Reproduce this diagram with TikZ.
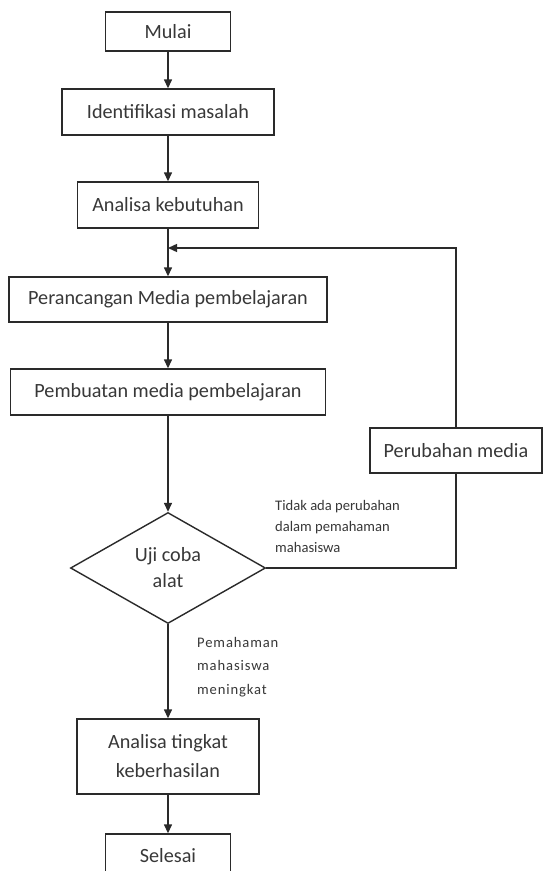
\documentclass[tikz,border=0pt]{standalone}
\usepackage{fontspec}
\setmainfont{Carlito}
\newfontfamily\spacedfont[LetterSpace=6]{Carlito}
\usetikzlibrary{shapes.geometric,arrows.meta,calc}
\definecolor{linec}{HTML}{2A2A2A}
\definecolor{textc}{HTML}{383838}
\tikzset{
  box/.style={draw=linec, line width=1.4pt, rectangle, inner sep=0pt, text=textc,
    font=\fontsize{20.2}{24}\selectfont, align=center},
  dia/.style={draw=linec, line width=1.4pt, diamond, inner sep=0pt, text=textc,
    font=\fontsize{20.2}{26}\selectfont, align=center},
  lbl/.style={inner sep=0pt, text=textc, align=left},
  conn/.style={draw=linec, line width=1.4pt},
  arr/.style={conn, -{Triangle[length=9pt,width=8pt]}}
}
\begin{document}
\begin{tikzpicture}[x=1pt,y=-1pt]
\clip (0,0) rectangle (543,871);
\fill[white] (0,0) rectangle (543,871);

\node[box, minimum width=125, minimum height=39] (mulai) at (168,31.5) {Mulai};
\node[box, minimum width=212, minimum height=46] (ident) at (168,112) {Identifikasi masalah};
\node[box, minimum width=181, minimum height=46] (anal) at (168,205) {Analisa kebutuhan};
\node[box, minimum width=318, minimum height=45] (peran) at (168,299.5) {Perancangan Media pembelajaran};
\node[box, minimum width=315, minimum height=46] (pembu) at (168,392) {Pembuatan media pembelajaran};
\node[box, minimum width=172, minimum height=45] (ubah) at (456,450.5) {Perubahan media};
\node[dia, minimum width=195, minimum height=111] (uji) at (168,568) {Uji coba\\alat};
\node[box, minimum width=182, minimum height=75, font=\fontsize{20.2}{29}\selectfont] (tingkat) at (168,756.5) {Analisa tingkat\\keberhasilan};
\node[box, minimum width=125, minimum height=44] (selesai) at (168,856) {Selesai};

\node[lbl, anchor=west, font=\fontsize{14.6}{21}\selectfont] (lno) at (275,526) {Tidak ada perubahan\\dalam pemahaman\\mahasiswa};
\node[lbl, anchor=west, font=\spacedfont\fontsize{14.6}{23.5}\selectfont] (lyes) at (197,667) {Pemahaman\\mahasiswa\\meningkat};

\coordinate (join) at (168,248);

\draw[arr] (mulai) -- (ident);
\draw[arr] (ident) -- (anal);
\draw[arr] (anal) -- (peran);
\draw[arr] (ubah.north) |- (join);
\draw[arr] (peran) -- (pembu);
\draw[arr] (pembu) -- (uji);
\draw[conn] (uji.east) -| (ubah.south);
\draw[arr] (uji) -- (tingkat);
\draw[arr] (tingkat) -- (selesai);
\end{tikzpicture}
\end{document}
